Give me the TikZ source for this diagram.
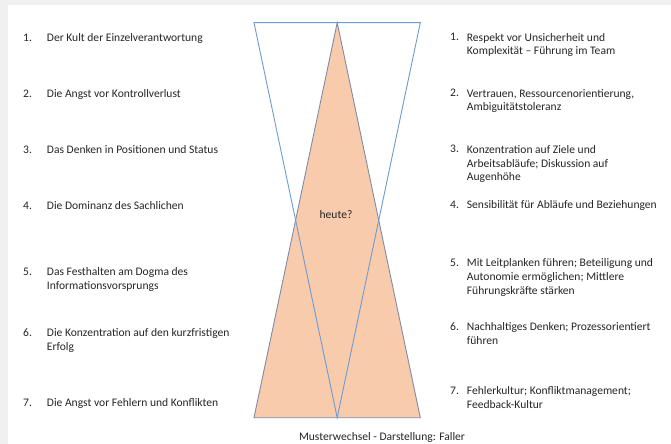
\documentclass[tikz,border=0pt]{standalone}
\usepackage{fontspec}
\setmainfont{Carlito}
\definecolor{pagegray}{HTML}{F0F0F0}
\definecolor{peach}{HTML}{F8CBAD}
\definecolor{slateline}{HTML}{7D8DA6}
\definecolor{blueline}{HTML}{6E9BD1}
\definecolor{txt}{HTML}{262626}
\begin{document}
\begin{tikzpicture}[x=1bp,y=-1bp,
  itemtext/.style={text=txt, inner sep=0pt, anchor=base west, align=left,
                   font=\fontsize{11.6}{14}\selectfont}]
\useasboundingbox (0,0) rectangle (671,444);
\fill[pagegray] (0,0) rectangle (671,444);
\fill[white] (8,5) rectangle (671,444);

% hourglass of two triangles
\coordinate (TL) at (254,22.7);
\coordinate (TR) at (420.3,22.7);
\coordinate (TA) at (337.2,22.7);
\coordinate (BL) at (254,417.7);
\coordinate (BR) at (420.3,417.7);
\coordinate (BA) at (337.2,417.7);
\filldraw[fill=peach, draw=slateline, line width=0.9bp, line join=miter] (TA) -- (BR) -- (BL) -- cycle;
\draw[blueline, line width=0.9bp] (TL) -- (TR) -- (BA) -- cycle;
\node[itemtext, anchor=base] (heute) at (336,218.5) {heute?};

% left column (multi-line nodes are placed by their last baseline)
\node[itemtext] (ln1) at (23,41.5) {1.};
\node[itemtext] (l1) at (46.7,41.5) {Der Kult der Einzelverantwortung};
\node[itemtext] (ln2) at (23,97.5) {2.};
\node[itemtext] (l2) at (46.7,97.5) {Die Angst vor Kontrollverlust};
\node[itemtext] (ln3) at (23,153.5) {3.};
\node[itemtext] (l3) at (46.7,153.5) {Das Denken in Positionen und Status};
\node[itemtext] (ln4) at (23,209.5) {4.};
\node[itemtext] (l4) at (46.7,209.5) {Die Dominanz des Sachlichen};
\node[itemtext] (ln5) at (23,275.5) {5.};
\node[itemtext] (l5) at (46.7,289.5) {Das Festhalten am Dogma des\\Informationsvorsprungs};
\node[itemtext] (ln6) at (23,336) {6.};
\node[itemtext] (l6) at (46.7,350) {Die Konzentration auf den kurzfristigen\\Erfolg};
\node[itemtext] (ln7) at (23,406.5) {7.};
\node[itemtext] (l7) at (46.7,406.5) {Die Angst vor Fehlern und Konflikten};

% right column
\node[itemtext] (rn1) at (450,41) {1.};
\node[itemtext] (r1) at (466.7,55) {Respekt vor Unsicherheit und\\Komplexität – Führung im Team};
\node[itemtext] (rn2) at (450,97) {2.};
\node[itemtext] (r2) at (466.7,111) {Vertrauen, Ressourcenorientierung,\\Ambiguitätstoleranz};
\node[itemtext] (rn3) at (450,153) {3.};
\node[itemtext] (r3) at (466.7,181) {Konzentration auf Ziele und\\Arbeitsabläufe; Diskussion auf\\Augenhöhe};
\node[itemtext] (rn4) at (450,209) {4.};
\node[itemtext] (r4) at (466.7,209) {Sensibilität für Abläufe und Beziehungen};
\node[itemtext] (rn5) at (450,266.5) {5.};
\node[itemtext] (r5) at (466.7,294.5) {Mit Leitplanken führen; Beteiligung und\\Autonomie ermöglichen; Mittlere\\Führungskräfte stärken};
\node[itemtext] (rn6) at (450,330.5) {6.};
\node[itemtext] (r6) at (466.7,344.5) {Nachhaltiges Denken; Prozessorientiert\\führen};
\node[itemtext] (rn7) at (450,394.5) {7.};
\node[itemtext] (r7) at (466.7,408.5) {Fehlerkultur; Konfliktmanagement;\\Feedback-Kultur};

% caption
\node[itemtext, anchor=base] (caption) at (382,440) {Musterwechsel - Darstellung: Faller};
\end{tikzpicture}
\end{document}
